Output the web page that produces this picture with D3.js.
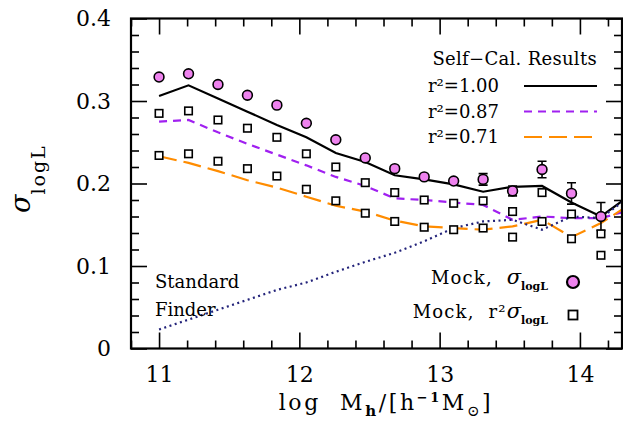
<!DOCTYPE html>
<html>
<head>
<meta charset="utf-8">
<script src="https://cdn.jsdelivr.net/npm/d3@7"></script>
<style>
  body { margin: 0; background: #fff; }
  svg { display: block; font-family: 'DejaVu Serif', serif; }
</style>
</head>
<body>
<div id="chart"></div>
<script>
// halo mass bins, log Mh
const massBins = [11.00, 11.21, 11.42, 11.63, 11.84, 12.05, 12.26, 12.47, 12.68, 12.89, 13.10, 13.31, 13.52, 13.73, 13.94, 14.15]
// the curves carry on one bin past the frame and get clipped
const lineBins = massBins.concat([14.36])

// mock scatter (circles) with its errors
const mockSigma    = [0.329, 0.333, 0.320, 0.307, 0.295, 0.273, 0.253, 0.231, 0.218, 0.208, 0.203, 0.205, 0.191, 0.217, 0.188, 0.160]
const mockSigmaErr = [0, 0, 0, 0, 0, 0, 0, 0, 0, 0, 0, 0.007, 0.006, 0.010, 0.013, 0.017]
// mock r^2 * sigma (squares)
const mockR087 = [0.285, 0.288, 0.277, 0.267, 0.256, 0.236, 0.220, 0.201, 0.189, 0.180, 0.176, 0.179, 0.166, 0.189, 0.163, 0.139]
const mockR071 = [0.234, 0.236, 0.227, 0.218, 0.209, 0.193, 0.179, 0.164, 0.154, 0.147, 0.144, 0.146, 0.135, 0.154, 0.133, 0.113]

// self-calibration results
const selfCal100 = [0.306, 0.319, 0.303, 0.287, 0.271, 0.256, 0.237, 0.226, 0.210, 0.205, 0.199, 0.190, 0.196, 0.197, 0.177, 0.160, 0.186]
const selfCal087 = [0.275, 0.277, 0.262, 0.248, 0.235, 0.222, 0.208, 0.197, 0.182, 0.180, 0.177, 0.174, 0.156, 0.160, 0.158, 0.158, 0.168]
const selfCal071 = [0.233, 0.225, 0.215, 0.204, 0.195, 0.184, 0.173, 0.166, 0.155, 0.148, 0.146, 0.144, 0.148, 0.156, 0.135, 0.152, 0.175]
// standard group finder
const standardFinder = [0.023, 0.035, 0.047, 0.059, 0.071, 0.080, 0.093, 0.105, 0.116, 0.130, 0.146, 0.154, 0.156, 0.144, 0.160, 0.158, 0.185]

const selfCalLabels = ['r²=1.00', 'r²=0.87', 'r²=0.71']
const xTicks = [11, 12, 13, 14]
const yTicks = [0, 0.1, 0.2, 0.3, 0.4]
const yTickLabels = ['0', '0.1', '0.2', '0.3', '0.4']

const width  = 623,
      height = 428,
      frame  = { left: 131, right: 622, top: 18.5, bottom: 348.5 },
      major  = 16,
      minor  = 8

const svg = d3.select('#chart')
  .append('svg')
  .attr('width', width)
  .attr('height', height)

const x = d3.scaleLinear().domain([10.8, 14.3]).range([frame.left, frame.right])
const y = d3.scaleLinear().domain([0, 0.4]).range([frame.bottom, frame.top])

svg.append('clipPath')
  .attr('id', 'plotClip')
  .append('rect')
    .attr('x', frame.left)
    .attr('y', frame.top)
    .attr('width', frame.right - frame.left)
    .attr('height', frame.bottom - frame.top)

// ticks on all four sides, pointing in
const xMinor = d3.range(54, 72).map(d => d / 5).filter(d => !xTicks.includes(d))
const yMinor = d3.range(0, 21).map(d => d / 50).filter(d => Math.round(d * 50) % 5 !== 0)

const tickGroup = (axisFn, scale, values, size, transform) => {
  svg.append('g')
    .attr('transform', transform)
    .call(axisFn(scale).tickValues(values).tickSize(-size).tickFormat(''))
    .call(g => g.select('.domain').remove())
    .call(g => g.selectAll('line').attr('stroke', '#000').attr('stroke-width', 1.6))
}
tickGroup(d3.axisBottom, x, xMinor, minor, `translate(0, ${frame.bottom})`)
tickGroup(d3.axisTop, x, xMinor, minor, `translate(0, ${frame.top})`)
tickGroup(d3.axisTop, x, xTicks, major, `translate(0, ${frame.top})`)
tickGroup(d3.axisLeft, y, yMinor, minor, `translate(${frame.left}, 0)`)
tickGroup(d3.axisRight, y, yMinor, minor, `translate(${frame.right}, 0)`)
tickGroup(d3.axisRight, y, yTicks, major, `translate(${frame.right}, 0)`)

// labelled axes
svg.append('g')
  .attr('transform', `translate(0, ${frame.bottom})`)
  .call(d3.axisBottom(x).tickValues(xTicks).tickSize(-major).tickPadding(18).tickFormat(d3.format('d')))
  .call(g => g.select('.domain').remove())
  .call(g => g.selectAll('line').attr('stroke', '#000').attr('stroke-width', 1.6))
  .call(g => g.selectAll('text')
    .attr('fill', '#000')
    .style('font-family', 'DejaVu Serif')
    .style('font-size', '22px'))

svg.append('g')
  .attr('transform', `translate(${frame.left}, 0)`)
  .call(d3.axisLeft(y).tickValues(yTicks).tickSize(-major).tickPadding(20).tickFormat((d, i) => yTickLabels[i]))
  .call(g => g.select('.domain').remove())
  .call(g => g.selectAll('line').attr('stroke', '#000').attr('stroke-width', 1.6))
  .call(g => g.selectAll('text')
    .attr('fill', '#000')
    .style('font-family', 'DejaVu Serif')
    .style('font-size', '22px'))

// curves
const line = vals => d3.line()
  .x((d, i) => x(lineBins[i]))
  .y(d => y(d))(vals)

const curves = [
  { vals: selfCal100, color: '#000', dash: null },
  { vals: selfCal087, color: '#a020f0', dash: '8,6' },
  { vals: selfCal071, color: '#ff8c00', dash: '18,7' },
  { vals: standardFinder, color: '#23237a', dash: '2,3.5' }
]

const plot = svg.append('g').attr('clip-path', 'url(#plotClip)')

plot.selectAll('.curve')
  .data(curves)
  .join('path')
    .attr('class', 'curve')
    .attr('d', d => line(d.vals))
    .attr('fill', 'none')
    .attr('stroke', d => d.color)
    .attr('stroke-width', 2.2)
    .attr('stroke-dasharray', d => d.dash)

// error bars on the mock scatter
const errs = massBins.map((m, i) => ({ m: m, v: mockSigma[i], e: mockSigmaErr[i] })).filter(d => d.e > 0)
const errG = plot.selectAll('.err')
  .data(errs)
  .join('g')
    .attr('class', 'err')
    .attr('stroke', '#000')
    .attr('stroke-width', 1.6)
errG.append('line')
  .attr('x1', d => x(d.m)).attr('x2', d => x(d.m))
  .attr('y1', d => y(d.v - d.e)).attr('y2', d => y(d.v + d.e))
errG.selectAll('.cap')
  .data(d => [d.v - d.e, d.v + d.e].map(v => ({ m: d.m, v: v })))
  .join('line')
    .attr('class', 'cap')
    .attr('x1', d => x(d.m) - 4.5).attr('x2', d => x(d.m) + 4.5)
    .attr('y1', d => y(d.v)).attr('y2', d => y(d.v))

// squares
const sq = 7.5
plot.selectAll('.sq')
  .data(massBins.flatMap((m, i) => [{ m: m, v: mockR087[i] }, { m: m, v: mockR071[i] }]))
  .join('rect')
    .attr('class', 'sq')
    .attr('x', d => x(d.m) - sq / 2)
    .attr('y', d => y(d.v) - sq / 2)
    .attr('width', sq)
    .attr('height', sq)
    .attr('fill', '#fff')
    .attr('stroke', '#000')
    .attr('stroke-width', 1.6)

// circles
plot.selectAll('.dot')
  .data(massBins.map((m, i) => ({ m: m, v: mockSigma[i] })))
  .join('circle')
    .attr('class', 'dot')
    .attr('cx', d => x(d.m))
    .attr('cy', d => y(d.v))
    .attr('r', 4.9)
    .attr('fill', '#ee82ee')
    .attr('stroke', '#000')
    .attr('stroke-width', 1.6)

// frame
svg.append('rect')
  .attr('x', frame.left)
  .attr('y', frame.top)
  .attr('width', frame.right - frame.left)
  .attr('height', frame.bottom - frame.top)
  .attr('fill', 'none')
  .attr('stroke', '#000')
  .attr('stroke-width', 2.2)

// self-cal legend, top right
const legend = svg.append('g').style('font-size', '18px').attr('fill', '#000')
legend.append('text')
  .attr('x', 597).attr('y', 65)
  .attr('text-anchor', 'end')
  .style('letter-spacing', '0.3px')
  .text('Self\u2212Cal. Results')
legend.selectAll('.lab')
  .data(selfCalLabels)
  .join('text')
    .attr('class', 'lab')
    .attr('x', 428)
    .attr('y', (d, i) => 92 + i * 25.5)
    .text(d => d)
legend.selectAll('.key')
  .data(curves.slice(0, 3))
  .join('line')
    .attr('class', 'key')
    .attr('x1', 524).attr('x2', 597)
    .attr('y1', (d, i) => 86 + i * 25.5)
    .attr('y2', (d, i) => 86 + i * 25.5)
    .attr('stroke', d => d.color)
    .attr('stroke-width', 2.2)
    .attr('stroke-dasharray', d => d.dash)

// mock legend, bottom right
const mock1 = legend.append('text').attr('x', 548).attr('y', 284).attr('text-anchor', 'end')
mock1.append('tspan').style('letter-spacing', '1.2px').text('Mock,\u00a0\u00a0')
mock1.append('tspan').style('font-style', 'italic').style('font-size', '21px').text('σ')
mock1.append('tspan').attr('dy', 6).style('font-size', '11px').style('font-weight', 'bold').text('logL')
const mock2 = legend.append('text').attr('x', 548).attr('y', 318).attr('text-anchor', 'end')
mock2.append('tspan').style('letter-spacing', '1.2px').text('Mock,\u00a0\u00a0r²')
mock2.append('tspan').style('font-style', 'italic').style('font-size', '21px').text('σ')
mock2.append('tspan').attr('dy', 6).style('font-size', '11px').style('font-weight', 'bold').text('logL')

legend.append('circle')
  .attr('cx', 573).attr('cy', 282).attr('r', 6)
  .attr('fill', '#ee82ee').attr('stroke', '#000').attr('stroke-width', 2.2)
legend.append('rect')
  .attr('x', 568.5).attr('y', 310.5).attr('width', 9).attr('height', 9)
  .attr('fill', '#fff').attr('stroke', '#000').attr('stroke-width', 1.8)

legend.append('text').attr('x', 155).attr('y', 288).text('Standard')
legend.append('text').attr('x', 155).attr('y', 316).text('Finder')

// axis titles
const yTitle = svg.append('text')
  .attr('transform', 'translate(30, 213) rotate(-90)')
yTitle.append('tspan').style('font-style', 'italic').style('font-size', '27px').text('σ')
yTitle.append('tspan').attr('dy', 15).style('font-size', '19px').style('letter-spacing', '2px').text('logL')

const xTitle = svg.append('text')
  .attr('x', 386).attr('y', 410)
  .attr('text-anchor', 'middle')
  .style('font-size', '22px')
  .style('letter-spacing', '2.6px')
xTitle.append('tspan').text('log\u00a0\u00a0M')
xTitle.append('tspan').attr('dy', 6).style('font-size', '15px').style('font-weight', 'bold').text('h')
xTitle.append('tspan').attr('dy', -6).text('/[h')
xTitle.append('tspan').attr('dy', -8).style('font-size', '13px').style('font-weight', 'bold').text('\u22121')
xTitle.append('tspan').attr('dy', 8).text('M')
xTitle.append('tspan').attr('dy', 6).style('font-size', '15px').text('⊙')
xTitle.append('tspan').attr('dy', -6).text(']')
</script>
</body>
</html>
